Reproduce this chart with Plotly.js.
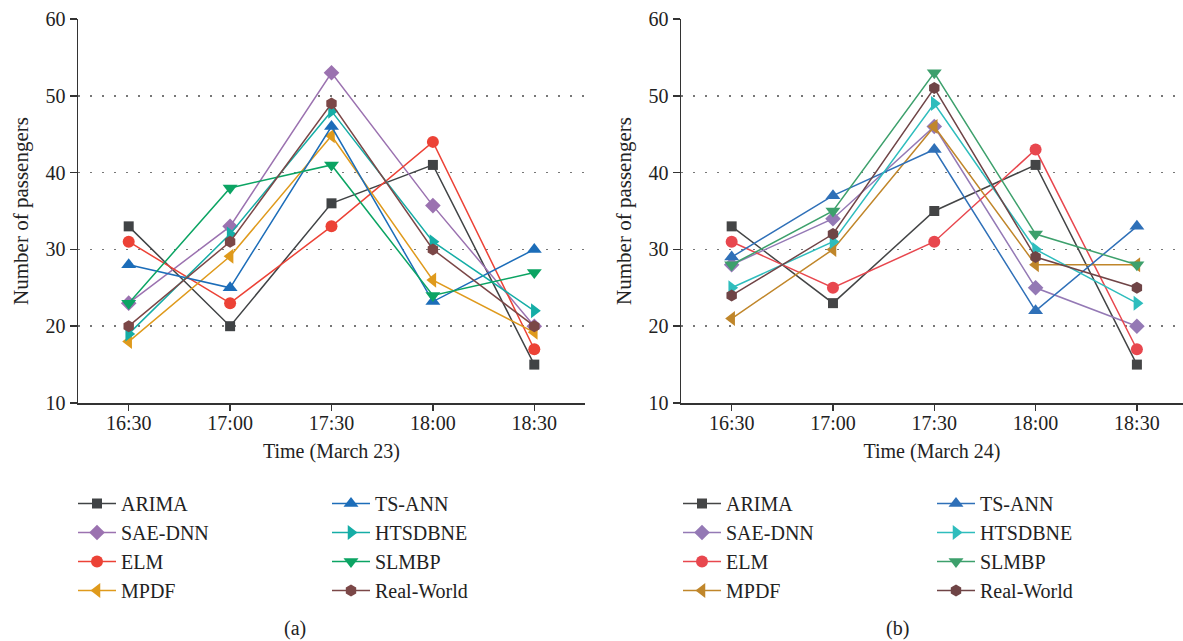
<!DOCTYPE html>
<html>
<head>
<meta charset="utf-8">
<script src="https://cdn.plot.ly/plotly-3.0.1.min.js"></script>
<style>html,body{margin:0;padding:0;background:#fff;}#chart{width:1183px;height:641px;}</style>
</head>
<body>
<div id="chart"></div>
<script>
// ---- data ----
const times = ["16:30", "17:00", "17:30", "18:00", "18:30"];
const yTicks = [10, 20, 30, 40, 50, 60];
const gridTicks = [20, 30, 40, 50];
const seriesNames = ["ARIMA", "SAE-DNN", "ELM", "MPDF", "TS-ANN", "HTSDBNE", "SLMBP", "Real-World"];

// March 23
const arimaA    = [33, 20, 36, 41, 15];
const saednnA   = [23, 33, 53, 35.7, 20];
const elmA      = [31, 23, 33, 44, 17];
const mpdfA     = [18, 29.1, 44.8, 26, 19.2];
const tsannA    = [28, 25, 46, 23.2, 30];
const htsdbneA  = [19, 32, 48, 31, 22];
const slmbpA    = [23, 38, 41, 24, 27];
const realA     = [20, 31, 49, 30, 20];

// March 24
const arimaB    = [33, 23, 35, 41, 15];
const saednnB   = [28, 34, 46, 25, 20];
const elmB      = [31, 25, 31, 43, 17];
const mpdfB     = [21, 30, 46, 28, 28];
const tsannB    = [29, 37, 43, 22, 33];
const htsdbneB  = [25, 31, 49, 30, 23];
const slmbpB    = [28, 35, 53, 32, 28];
const realB     = [24, 32, 51, 29, 25];

const dataA = [arimaA, saednnA, elmA, mpdfA, tsannA, htsdbneA, slmbpA, realA];
const dataB = [arimaB, saednnB, elmB, mpdfB, tsannB, htsdbneB, slmbpB, realB];

// ---- styles ----
const symbols = ["square", "diamond", "circle", "triangle-left", "triangle-up", "triangle-right", "triangle-down", "hexagon"];
const sizes   = [10, 12, 12, 13, 13, 13, 13, 12];
const colorsA = ["#404345", "#9b72b0", "#ec4236", "#df9a1c", "#1c6db9", "#15ada6", "#0ba463", "#7b4747"];
const colorsB = ["#444546", "#9479b5", "#e8474e", "#c0862a", "#2f70b8", "#2ebdbd", "#3da06c", "#6f4446"];

const FONT = "Liberation Serif, Times New Roman, serif";
const TXT = "#222";
const traces = [];
function addPanel(data, colors, xa, ya, legs) {
  data.forEach((vals, i) => {
    traces.push({
      type: "scatter", mode: "lines+markers",
      x: times, y: vals, name: seriesNames[i],
      xaxis: xa, yaxis: ya, legend: i < 4 ? legs[0] : legs[1],
      line: {color: colors[i], width: 1.5},
      marker: {symbol: symbols[i], size: sizes[i], color: colors[i]},
      cliponaxis: false
    });
  });
}
// dummy traces so the grid-only overlay axes are drawn
traces.push({type: "scatter", x: [times[0]], y: [null], xaxis: "x", yaxis: "y3", showlegend: false, hoverinfo: "skip"});
traces.push({type: "scatter", x: [times[0]], y: [null], xaxis: "x2", yaxis: "y4", showlegend: false, hoverinfo: "skip"});
addPanel(dataA, colorsA, "x", "y", ["legend", "legend2"]);
addPanel(dataB, colorsB, "x2", "y2", ["legend3", "legend4"]);

const yDom = [1 - 403/641, 1 - 19/641];
function xAxis(dom, range, title) {
  return {
    domain: dom, range: range, type: "category",
    showline: true, linecolor: "#333", linewidth: 1.5,
    ticks: "outside", ticklen: 6, tickwidth: 1.5, tickcolor: "#333",
    ticklabelstandoff: -5,
    showgrid: false, zeroline: false,
    tickfont: {family: FONT, size: 20, color: TXT},
    title: {text: title, font: {family: FONT, size: 20, color: TXT}, standoff: 11}
  };
}
function yAxis(anchor, title) {
  return {
    domain: yDom, range: [10, 60], anchor: anchor,
    tickvals: yTicks, showline: true, linecolor: "#333", linewidth: 1.5,
    ticks: "outside", ticklen: 7, tickwidth: 1.5, tickcolor: "#333",
    showgrid: false, zeroline: false,
    tickfont: {family: FONT, size: 20, color: TXT},
    title: {text: title, font: {family: FONT, size: 21, color: TXT}, standoff: 11}
  };
}
function gridAxis(overlay, anchor) {
  return {
    overlaying: overlay, anchor: anchor, range: [10, 60], domain: yDom,
    tickvals: gridTicks, showticklabels: false, ticks: "",
    showgrid: true, gridcolor: "#777", gridwidth: 1.5, griddash: "1.5px,10.5px",
    showline: false, zeroline: false
  };
}
function legend(xpx) {
  return {
    x: xpx/1183, y: 1 - 484/641, xanchor: "left", yanchor: "top",
    orientation: "v", itemwidth: 38,
    font: {family: FONT, size: 20, color: TXT},
    bgcolor: "rgba(0,0,0,0)", borderwidth: 0
  };
}

const layout = {
  width: 1183, height: 641,
  margin: {l: 0, r: 0, t: 0, b: 0, autoexpand: false},
  paper_bgcolor: "#fff", plot_bgcolor: "rgba(0,0,0,0)",
  showlegend: true,
  xaxis: xAxis([78/1183, 585/1183], [-0.5, 4.5], "Time (March 23)"),
  yaxis: yAxis("x", "Number of passengers"),
  xaxis2: xAxis([681/1183, 1], [-0.5, 4.455], "Time (March 24)"),
  yaxis2: yAxis("x2", "Number of passengers"),
  yaxis3: gridAxis("y", "x"),
  yaxis4: gridAxis("y2", "x2"),
  legend: legend(73),
  legend2: legend(327),
  legend3: legend(678),
  legend4: legend(932),
  annotations: [
    {text: "(a)", x: 295/1183, y: 1 - 628/641, xref: "paper", yref: "paper", xanchor: "center", yanchor: "middle", showarrow: false, font: {family: FONT, size: 20, color: TXT}},
    {text: "(b)", x: 897/1183, y: 1 - 628/641, xref: "paper", yref: "paper", xanchor: "center", yanchor: "middle", showarrow: false, font: {family: FONT, size: 20, color: TXT}}
  ]
};

Plotly.newPlot("chart", traces, layout, {staticPlot: true});
</script>
</body>
</html>
